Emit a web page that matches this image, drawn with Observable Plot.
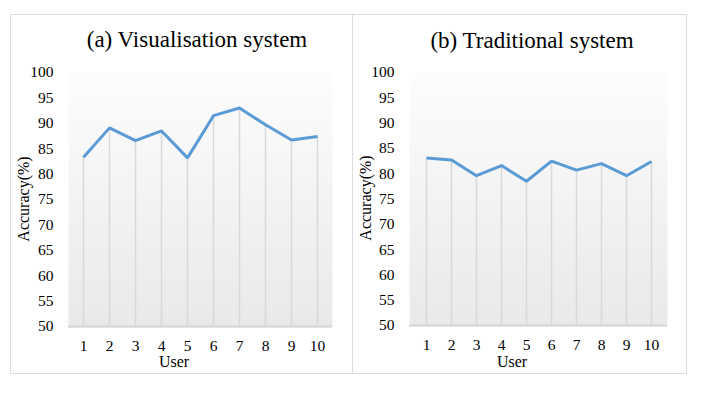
<!DOCTYPE html>
<html>
<head>
<meta charset="utf-8">
<script src="https://cdn.jsdelivr.net/npm/d3@7"></script>
<script src="https://cdn.jsdelivr.net/npm/@observablehq/plot@0.6"></script>
<style>
  html, body { margin: 0; padding: 0; background: #fff; }
  body { width: 713px; height: 395px; position: relative; overflow: hidden; font-family: "Liberation Serif", "Times New Roman", "DejaVu Serif", serif; color: #000; }
  .panel { position: absolute; top: 14px; height: 358px; border: 1px solid #dcdcdc; box-sizing: content-box; }
  .title { position: absolute; font-size: 23px; white-space: nowrap; transform: translateX(-50%); line-height: 1; }
  .ylab { position: absolute; font-size: 16px; white-space: nowrap; transform: translate(-50%, -50%) rotate(-90deg); line-height: 1; }
  .xlab { position: absolute; font-size: 16px; white-space: nowrap; transform: translate(-50%, -50%); line-height: 1; }
  .chart { position: absolute; top: 56px; }
</style>
</head>
<body>
<div class="panel" style="left:10px; width:341px;"></div>
<div class="panel" style="left:352px; width:333px;"></div>
<div class="title" style="left:197px; top:28px;">(a) Visualisation system</div>
<div class="title" style="left:532px; top:29px;">(b) Traditional system</div>
<div class="ylab" style="left:24px; top:199px;">Accuracy(%)</div>
<div class="ylab" style="left:366px; top:198px;">Accuracy(%)</div>
<div class="xlab" style="left:174px; top:362px;">User</div>
<div class="xlab" style="left:512px; top:362px;">User</div>
<div id="chartA" class="chart" style="left:11px;"></div>
<div id="chartB" class="chart" style="left:353px;"></div>
<script>
const users = [1, 2, 3, 4, 5, 6, 7, 8, 9, 10];
const visAcc = [83.3, 89.1, 86.6, 88.5, 83.2, 91.5, 93.0, 89.7, 86.7, 87.4];
const tradAcc = [83.1, 82.7, 79.6, 81.6, 78.5, 82.5, 80.7, 82.0, 79.6, 82.4];
const yTicks = [50, 55, 60, 65, 70, 75, 80, 85, 90, 95, 100];

function makeChart(values, gradId, opts) {
  const data = users.map((u, i) => ({user: u, acc: values[i]}));
  const svg = Plot.plot({
    width: opts.width,
    height: 316,
    marginLeft: opts.marginLeft,
    marginRight: opts.marginRight,
    marginTop: 16,
    marginBottom: opts.marginBottom,
    style: {fontFamily: "'Liberation Serif', 'Times New Roman', serif", fontSize: "15.5px", color: "#000", background: "transparent"},
    x: {type: "point", domain: users, padding: 0.5, label: null, tickSize: 0, tickPadding: 13},
    y: {domain: [50, 100], ticks: yTicks, label: null, tickSize: 0, tickPadding: 15, tickFormat: d => String(d)},
    marks: [
      Plot.frame({fill: `url(#${gradId})`, stroke: "none"}),
      Plot.ruleX(data, {x: "user", y1: 50, y2: "acc", stroke: "#d9d9d9", strokeWidth: 1.5}),
      Plot.ruleY([50], {stroke: "#d9d9d9", strokeWidth: 2.5}),
      Plot.line(data, {x: "user", y: "acc", stroke: "#5b9bd5", strokeWidth: 3, strokeLinejoin: "miter", strokeLinecap: "butt"})
    ]
  });
  const defs = d3.select(svg).insert("defs", ":first-child");
  const g = defs.append("linearGradient").attr("id", gradId).attr("x1", 0).attr("y1", 0).attr("x2", 0).attr("y2", 1);
  g.append("stop").attr("offset", "0%").attr("stop-color", "#fdfdfd");
  g.append("stop").attr("offset", "20%").attr("stop-color", "#f9f9f9");
  g.append("stop").attr("offset", "100%").attr("stop-color", "#e9e9e9");
  d3.select(svg).selectAll("[aria-label='y-axis tick label'] text, [aria-label='x-axis tick label'] text").attr("fill", "#000");
  return svg;
}

document.getElementById("chartA").appendChild(makeChart(visAcc, "gradA", {width: 340, marginLeft: 57, marginRight: 19, marginBottom: 46}));
document.getElementById("chartB").appendChild(makeChart(tradAcc, "gradB", {width: 332, marginLeft: 56, marginRight: 18, marginBottom: 47}));
</script>
</body>
</html>
